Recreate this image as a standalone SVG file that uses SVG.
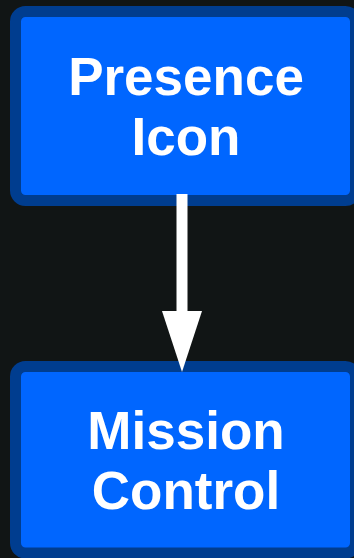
<svg xmlns="http://www.w3.org/2000/svg" width="354" height="558" viewBox="0 0 354 558">
<style>
.box{fill:#0066ff;stroke:#003d8f;stroke-width:11}
.lbl{font-family:"Liberation Sans",Arial,sans-serif;font-weight:bold;font-size:53px;fill:#ffffff;text-anchor:middle}
</style>
<rect x="0" y="0" width="354" height="558" fill="#111515"/>
<g id="node-presence">
<rect class="box" x="15.5" y="11.5" width="340" height="189" rx="10"/>
<text class="lbl" x="186" y="95">Presence</text>
<text class="lbl" x="186" y="154.5">Icon</text>
</g>
<g id="node-mission">
<rect class="box" x="15.5" y="366.5" width="340" height="186.5" rx="10"/>
<text class="lbl" x="186" y="448.5">Mission</text>
<text class="lbl" x="186" y="508.5">Control</text>
</g>
<g id="connectors">
<rect x="176.5" y="194" width="11" height="118" fill="#ffffff"/>
<polygon points="162,311 202,311 182,372" fill="#ffffff"/>
</g>
</svg>
